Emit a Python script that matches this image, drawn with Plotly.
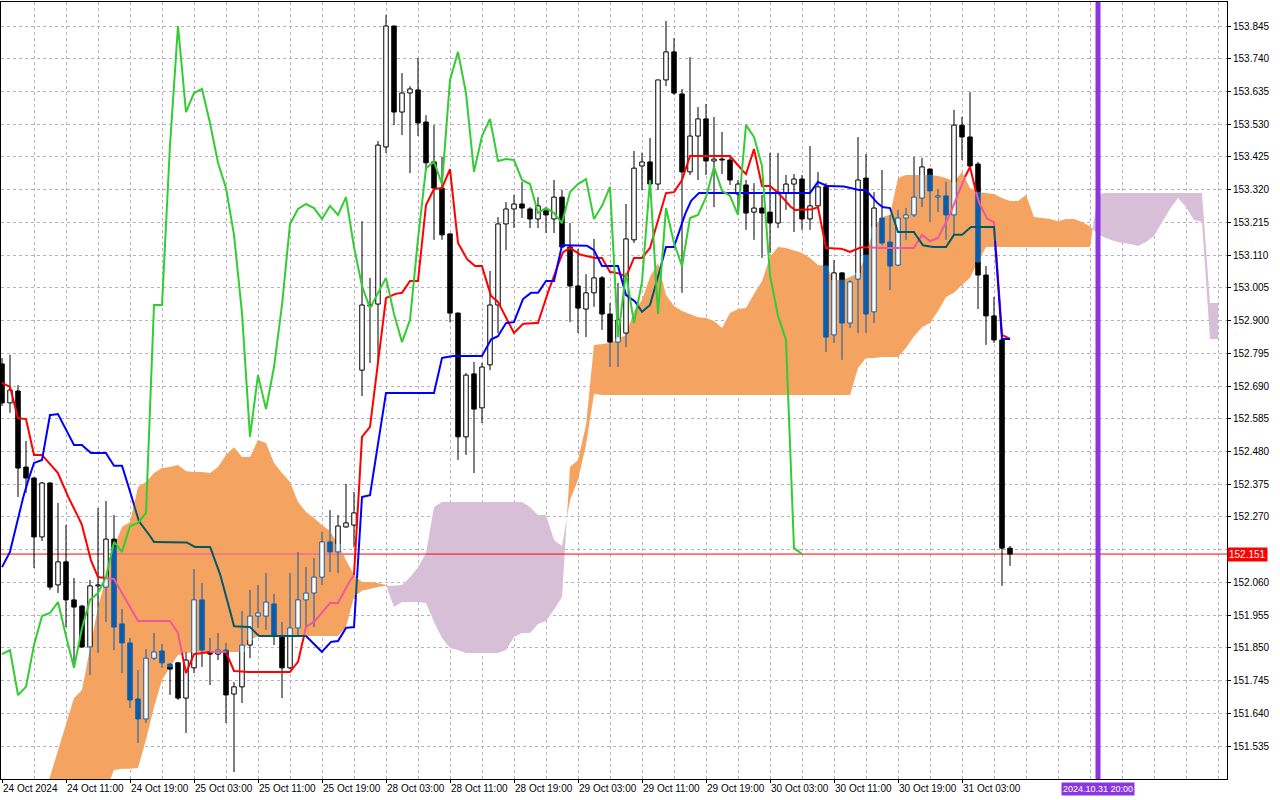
import numpy as np
import plotly.graph_objects as go

# ---- data (USDJPY H1, Ichimoku) ----
x_tick_bars = [0, 8, 16, 24, 32, 40, 48, 56, 64, 72, 80, 88, 96, 104, 112, 120]
x_tick_text = ["24 Oct 2024", "24 Oct 11:00", "24 Oct 19:00", "25 Oct 03:00",
               "25 Oct 11:00", "25 Oct 19:00", "28 Oct 03:00", "28 Oct 11:00",
               "28 Oct 19:00", "29 Oct 03:00", "29 Oct 11:00", "29 Oct 19:00",
               "30 Oct 03:00", "30 Oct 11:00", "30 Oct 19:00", "31 Oct 03:00"]
y_ticks = [151.535, 151.640, 151.745, 151.850, 151.955, 152.060, 152.165, 152.270,
           152.375, 152.480, 152.585, 152.690, 152.795, 152.900, 153.005, 153.110,
           153.215, 153.320, 153.425, 153.530, 153.635, 153.740, 153.845]

open_px = [
    152.761, 152.636, 152.674, 152.430, 152.395, 152.206, 152.379, 152.052, 152.126, 152.004,
    151.984, 151.853, 152.049, 152.045, 152.199, 151.927, 151.866, 151.686, 151.622, 151.817,
    151.840, 151.798, 151.802, 151.689, 151.786, 152.004, 151.837, 151.830, 151.843, 151.702,
    151.725, 151.859, 151.952, 151.952, 151.991, 151.888, 151.786, 151.914, 152.004, 152.026,
    152.077, 152.190, 152.158, 152.238, 152.244, 152.741, 152.947, 152.953, 153.457, 153.845,
    153.569, 153.630, 153.640, 153.537, 153.409, 153.325, 153.178, 152.924, 152.527, 152.729,
    152.620, 152.758, 152.950, 153.210, 153.258, 153.274, 153.258, 153.226, 153.252, 153.226,
    153.296, 153.136, 153.011, 152.937, 152.989, 153.037, 152.921, 152.831, 152.860, 153.159,
    153.396, 153.409, 153.338, 153.672, 153.762, 153.627, 153.377, 153.492, 153.547, 153.412,
    153.418, 153.415, 153.306, 153.335, 153.248, 153.261, 153.248, 153.213, 153.309, 153.338,
    153.354, 153.226, 153.268, 153.329, 152.854, 153.053, 152.892, 153.033, 153.357, 152.928,
    153.229, 153.152, 153.078, 153.229, 153.239, 153.293, 153.386, 153.296, 153.300, 153.239,
    153.527, 153.489, 153.402, 153.046, 152.915, 152.838, 152.170]
high_px = [
    152.780, 152.790, 152.693, 152.514, 152.397, 152.382, 152.381, 152.315, 152.244, 152.074,
    151.988, 152.068, 152.299, 152.321, 152.276, 151.975, 151.882, 151.779, 151.846, 151.898,
    151.862, 151.802, 151.805, 151.837, 152.103, 152.058, 151.882, 151.898, 151.866, 151.740,
    151.968, 152.036, 152.052, 152.090, 152.023, 151.933, 152.090, 152.158, 152.109, 152.138,
    152.222, 152.292, 152.276, 152.376, 152.350, 153.219, 153.037, 153.476, 153.880, 153.846,
    153.694, 153.652, 153.742, 153.559, 153.527, 153.425, 153.180, 152.926, 152.732, 152.767,
    152.764, 153.059, 153.232, 153.280, 153.303, 153.345, 153.264, 153.296, 153.264, 153.351,
    153.319, 153.213, 153.130, 153.049, 153.162, 153.043, 152.956, 153.021, 153.274, 153.444,
    153.438, 153.486, 153.672, 153.861, 153.806, 153.643, 153.745, 153.585, 153.595, 153.553,
    153.505, 153.425, 153.351, 153.351, 153.341, 153.303, 153.438, 153.438, 153.367, 153.370,
    153.367, 153.460, 153.377, 153.341, 153.094, 153.055, 153.030, 153.489, 153.434, 153.312,
    153.383, 153.239, 153.255, 153.261, 153.425, 153.422, 153.388, 153.322, 153.345, 153.576,
    153.553, 153.633, 153.409, 153.075, 152.976, 152.839, 152.177]
low_px = [
    152.626, 152.604, 152.334, 152.347, 152.106, 152.193, 152.036, 152.026, 151.917, 151.789,
    151.850, 151.763, 151.834, 151.933, 151.843, 151.769, 151.657, 151.545, 151.609, 151.811,
    151.786, 151.699, 151.683, 151.577, 151.769, 151.789, 151.731, 151.811, 151.609, 151.452,
    151.673, 151.817, 151.914, 151.908, 151.859, 151.689, 151.782, 151.885, 151.917, 151.917,
    152.052, 152.093, 152.090, 152.235, 152.174, 152.658, 152.764, 152.764, 153.438, 153.527,
    153.495, 153.373, 153.492, 153.383, 153.159, 153.159, 152.895, 152.453, 152.469, 152.411,
    152.571, 152.741, 152.860, 153.126, 153.197, 153.229, 153.197, 153.197, 153.181, 153.181,
    153.133, 152.895, 152.860, 152.847, 152.944, 152.870, 152.751, 152.751, 152.815, 153.149,
    153.319, 153.319, 153.319, 153.652, 153.624, 152.989, 153.367, 153.351, 153.367, 153.264,
    153.370, 153.335, 153.239, 153.191, 153.159, 153.101, 153.117, 153.197, 153.255, 153.184,
    153.191, 153.191, 153.255, 152.799, 152.828, 152.774, 152.876, 152.860, 152.860, 152.892,
    153.142, 152.998, 153.076, 153.159, 153.232, 153.264, 153.216, 153.248, 153.159, 153.175,
    153.415, 153.383, 152.937, 152.822, 152.828, 152.049, 152.113]
close_px = [
    152.636, 152.677, 152.427, 152.395, 152.206, 152.379, 152.045, 152.126, 152.004, 151.981,
    151.853, 152.049, 152.052, 152.199, 151.917, 151.866, 151.683, 151.622, 151.817, 151.837,
    151.802, 151.782, 151.689, 151.811, 152.004, 151.843, 151.830, 151.843, 151.699, 151.725,
    151.859, 151.952, 151.962, 151.997, 151.888, 151.786, 151.914, 152.004, 152.026, 152.077,
    152.190, 152.158, 152.241, 152.251, 152.283, 152.950, 152.950, 153.463, 153.845, 153.569,
    153.630, 153.643, 153.534, 153.406, 153.325, 153.175, 152.924, 152.527, 152.725, 152.616,
    152.751, 152.950, 153.210, 153.258, 153.274, 153.261, 153.226, 153.268, 153.239, 153.296,
    153.136, 153.011, 152.940, 152.989, 153.037, 152.921, 152.831, 152.902, 153.162, 153.389,
    153.409, 153.338, 153.672, 153.762, 153.630, 153.377, 153.492, 153.547, 153.412, 153.418,
    153.415, 153.351, 153.338, 153.245, 153.261, 153.245, 153.213, 153.312, 153.338, 153.354,
    153.226, 153.268, 153.329, 152.847, 153.053, 152.892, 153.024, 153.351, 152.921, 153.261,
    153.149, 153.075, 153.229, 153.239, 153.296, 153.393, 153.316, 153.300, 153.239, 153.527,
    153.489, 153.396, 153.046, 152.915, 152.838, 152.170, 152.151]

tenkan = [
    152.700, 152.687, 152.587, 152.584, 152.469, 152.469, 152.440, 152.411, 152.347, 152.299,
    152.244, 152.138, 152.077, 152.074, 152.071, 152.026, 151.981, 151.936, 151.936, 151.936,
    151.936, 151.936, 151.898, 151.769, 151.830, 151.834, 151.837, 151.837, 151.837, 151.776,
    151.773, 151.773, 151.773, 151.773, 151.773, 151.773, 151.773, 151.805, 151.917, 151.933,
    151.965, 151.994, 151.994, 152.045, 152.084, 152.527, 152.559, 152.764, 152.972, 152.985,
    152.989, 153.027, 153.027, 153.271, 153.322, 153.325, 153.386, 153.149, 153.101, 153.075,
    153.075, 152.982, 152.960, 152.908, 152.860, 152.889, 152.892, 152.892, 152.976, 153.040,
    153.117, 153.133, 153.114, 153.107, 153.101, 153.101, 153.056, 153.053, 153.040, 153.101,
    153.101, 153.133, 153.223, 153.309, 153.312, 153.351, 153.428, 153.428, 153.428, 153.428,
    153.428, 153.428, 153.396, 153.370, 153.450, 153.332, 153.332, 153.312, 153.280, 153.255,
    153.255, 153.255, 153.264, 153.133, 153.133, 153.130, 153.120, 153.133, 153.136, 153.133,
    153.133, 153.133, 153.133, 153.133, 153.133, 153.175, 153.155, 153.165, 153.213, 153.271,
    153.341, 153.393, 153.287, 153.229, 153.216, 152.854, 152.841]
kijun = [
    152.109, 152.158, 152.270, 152.366, 152.443, 152.453, 152.597, 152.600, 152.549, 152.501,
    152.501, 152.475, 152.475, 152.475, 152.434, 152.434, 152.357, 152.260, 152.228, 152.190,
    152.190, 152.190, 152.190, 152.190, 152.174, 152.174, 152.174, 152.109, 152.020, 151.920,
    151.917, 151.917, 151.888, 151.888, 151.888, 151.888, 151.888, 151.888, 151.888, 151.862,
    151.837, 151.869, 151.872, 151.914, 151.917, 152.334, 152.340, 152.507, 152.668, 152.668,
    152.668, 152.668, 152.668, 152.668, 152.668, 152.780, 152.786, 152.786, 152.786, 152.786,
    152.786, 152.838, 152.850, 152.892, 152.895, 152.966, 152.989, 152.989, 153.027, 153.027,
    153.142, 153.142, 153.142, 153.142, 153.126, 153.075, 153.075, 153.075, 152.982, 152.966,
    152.928, 152.950, 153.040, 153.136, 153.136, 153.216, 153.280, 153.309, 153.309, 153.309,
    153.309, 153.309, 153.309, 153.309, 153.309, 153.309, 153.309, 153.309, 153.309, 153.309,
    153.309, 153.309, 153.345, 153.332, 153.332, 153.332, 153.325, 153.319, 153.319, 153.287,
    153.264, 153.261, 153.184, 153.184, 153.184, 153.142, 153.136, 153.136, 153.136, 153.175,
    153.175, 153.200, 153.200, 153.200, 153.200, 152.841, 152.841]
span_a = [
    150.932, 151.016, 151.099, 151.182, 151.266, 151.352, 151.433, 151.516, 151.603, 151.689,
    151.715, 151.853, 151.981, 152.077, 152.174, 152.238, 152.254, 152.366, 152.382, 152.411,
    152.427, 152.430, 152.437, 152.417, 152.414, 152.414, 152.411, 152.430, 152.469, 152.494,
    152.462, 152.462, 152.517, 152.507, 152.443, 152.411, 152.382, 152.318, 152.286, 152.267,
    152.244, 152.225, 152.183, 152.132, 152.084, 152.061, 152.061, 152.058, 152.052, 151.981,
    151.997, 151.997, 151.997, 151.994, 151.933, 151.882, 151.850, 151.843, 151.834, 151.834,
    151.834, 151.834, 151.834, 151.843, 151.885, 151.898, 151.898, 151.927, 151.936, 151.972,
    152.013, 152.430, 152.453, 152.565, 152.822, 152.825, 152.828, 152.841, 152.854, 152.931,
    152.966, 153.040, 153.085, 152.982, 152.947, 152.931, 152.921, 152.911, 152.908, 152.899,
    152.876, 152.924, 152.937, 152.940, 152.985, 153.027, 153.104, 153.136, 153.133, 153.126,
    153.117, 153.101, 153.078, 153.075, 153.030, 153.030, 153.040, 153.053, 153.110, 153.200,
    153.232, 153.239, 153.357, 153.367, 153.367, 153.367, 153.367, 153.364, 153.357, 153.345,
    153.377, 153.325, 153.312, 153.309, 153.306, 153.293, 153.284, 153.284, 153.303, 153.232,
    153.229, 153.226, 153.219, 153.226, 153.226, 153.216, 153.203, 153.175, 153.165, 153.155,
    153.149, 153.146, 153.139, 153.152, 153.171, 153.213, 153.258, 153.293, 153.264, 153.223,
    153.216, 152.841, 152.841]
span_b = [
    150.800, 150.800, 150.800, 150.800, 150.800, 150.800, 150.800, 150.800, 150.800, 150.800,
    150.800, 150.800, 150.800, 151.394, 151.458, 151.462, 151.462, 151.465, 151.555, 151.660,
    151.747, 151.789, 151.827, 151.834, 151.837, 151.837, 151.837, 151.837, 151.837, 151.837,
    151.837, 151.875, 151.888, 151.888, 151.888, 151.888, 151.888, 151.888, 151.888, 151.888,
    151.888, 151.888, 151.888, 151.917, 152.013, 152.033, 152.039, 152.045, 152.049, 152.049,
    152.052, 152.077, 152.109, 152.154, 152.302, 152.318, 152.318, 152.318, 152.318, 152.318,
    152.318, 152.318, 152.318, 152.318, 152.318, 152.318, 152.302, 152.276, 152.276, 152.196,
    152.177, 152.324, 152.389, 152.501, 152.665, 152.661, 152.661, 152.661, 152.661, 152.661,
    152.661, 152.661, 152.661, 152.661, 152.661, 152.661, 152.661, 152.661, 152.661, 152.661,
    152.661, 152.661, 152.661, 152.661, 152.661, 152.661, 152.661, 152.661, 152.661, 152.661,
    152.661, 152.661, 152.661, 152.661, 152.661, 152.661, 152.661, 152.748, 152.780, 152.780,
    152.783, 152.783, 152.783, 152.812, 152.850, 152.879, 152.892, 152.931, 152.976, 152.989,
    153.014, 153.037, 153.088, 153.136, 153.136, 153.136, 153.136, 153.136, 153.136, 153.136,
    153.136, 153.136, 153.136, 153.136, 153.136, 153.136, 153.136, 153.306, 153.309, 153.309,
    153.309, 153.309, 153.309, 153.309, 153.309, 153.309, 153.309, 153.309, 153.309, 153.309,
    153.309, 152.956, 152.956]

chikou_shift = 26
last_price = close_px[-1]
vline_bar = 137
vline_label = "2024.10.31 20:00"

# colours
ORANGE = "#F4A460"
LAVENDER = "#D8BFD8"
RED = "#FF0000"
PINK = "#F0589E"
BLUE = "#0000FF"
TEAL = "#00596A"
GREEN = "#32CD32"
CANDLE_IN = "#0B5CAD"
GRID = "#B8B0BE"
PURPLE = "#8B35E0"

X_MIN, X_MAX = -0.125, 153.125
Y_MIN, Y_MAX = 151.4294, 153.922
W = 0.28  # half body width in bars


def orange_at(x):
    n = len(span_a)
    if x < 0 or x > n - 1:
        return None
    k = min(int(np.floor(x)), n - 2)
    t = x - k
    a = span_a[k] + t * (span_a[k + 1] - span_a[k])
    b = span_b[k] + t * (span_b[k + 1] - span_b[k])
    return (b, a) if a >= b else None


def inside(x, y):
    r = orange_at(x)
    return r is not None and r[0] <= y <= r[1]


def cloud_polys(a, b):
    pts = []
    for k in range(len(a)):
        pts.append((k, a[k], b[k]))
        if k + 1 < len(a):
            d0, d1 = a[k] - b[k], a[k + 1] - b[k + 1]
            if d0 * d1 < 0:
                t = d0 / (d0 - d1)
                yc = a[k] + t * (a[k + 1] - a[k])
                pts.append((k + t, yc, yc))

    def cls(j):
        return (pts[j][1] + pts[j + 1][1]) >= (pts[j][2] + pts[j + 1][2])

    out = {True: ([], []), False: ([], [])}
    j = 0
    while j < len(pts) - 1:
        c = cls(j)
        k = j
        while k < len(pts) - 1 and cls(k) == c:
            k += 1
        run = pts[j:k + 1]
        xs = [r[0] for r in run] + [r[0] for r in reversed(run)]
        ys = [r[1] for r in run] + [r[2] for r in reversed(run)]
        out[c][0].extend(xs + [None])
        out[c][1].extend(ys + [None])
        j = k
    return out


def split_line(xs, ys, steps=8):
    res = {False: ([], []), True: ([], [])}
    cur = None
    for k in range(len(xs) - 1):
        for s in range(steps):
            t0, t1 = s / steps, (s + 1) / steps
            x0 = xs[k] + t0 * (xs[k + 1] - xs[k])
            x1 = xs[k] + t1 * (xs[k + 1] - xs[k])
            y0 = ys[k] + t0 * (ys[k + 1] - ys[k])
            y1 = ys[k] + t1 * (ys[k + 1] - ys[k])
            f = inside((x0 + x1) / 2, (y0 + y1) / 2)
            if f != cur:
                if cur is not None:
                    res[cur][0].append(None)
                    res[cur][1].append(None)
                res[f][0].append(x0)
                res[f][1].append(y0)
                cur = f
            res[f][0].append(x1)
            res[f][1].append(y1)
    return res


def parts(a, b, x):
    r = orange_at(x)
    if b - a < 1e-9:
        return [(a, b, r is not None and r[0] <= a <= r[1])]
    if r is None:
        return [(a, b, False)]
    lo, hi = r
    out = []
    if a < lo:
        out.append((a, min(b, lo), False))
    if b > lo and a < hi:
        out.append((max(a, lo), min(b, hi), True))
    if b > hi:
        out.append((max(a, hi), b, False))
    return out


fig = go.Figure()

# cloud
polys = cloud_polys(span_a, span_b)
fig.add_trace(go.Scatter(x=polys[True][0], y=polys[True][1], mode="lines", fill="toself",
                         fillcolor=ORANGE, line=dict(width=0, color=ORANGE)))
fig.add_trace(go.Scatter(x=polys[False][0], y=polys[False][1], mode="lines", fill="toself",
                         fillcolor=LAVENDER, line=dict(width=0, color=LAVENDER)))

# current price line
pl = split_line([X_MIN, X_MAX], [last_price, last_price], steps=int((X_MAX - X_MIN) * 8))
fig.add_trace(go.Scatter(x=pl[False][0], y=pl[False][1], mode="lines", line=dict(color=RED, width=1)))
fig.add_trace(go.Scatter(x=pl[True][0], y=pl[True][1], mode="lines", line=dict(color=PINK, width=1)))

# candles
white_fill = ([], [])
line_seg = {False: ([], []), True: ([], [])}
body_fill = {False: ([], []), True: ([], [])}


def add_seg(store, x0, y0, x1, y1):
    store[0].extend([x0, x1, None])
    store[1].extend([y0, y1, None])


def add_rect(store, i, lo, hi):
    store[0].extend([i - W, i + W, i + W, i - W, i - W, None])
    store[1].extend([lo, lo, hi, hi, lo, None])


for i in range(len(close_px)):
    o, h, l, c = open_px[i], high_px[i], low_px[i], close_px[i]
    bl, bh = min(o, c), max(o, c)
    for a, b in ((bh, h), (l, bl)):
        if b > a:
            for p0, p1, f in parts(a, b, i):
                add_seg(line_seg[f], i, p0, i, p1)
    if c >= o:
        add_rect(white_fill, i, bl, bh)
        for p0, p1, f in parts(bl, bh, i):
            add_seg(line_seg[f], i - W, p0, i - W, p1)
            add_seg(line_seg[f], i + W, p0, i + W, p1)
        add_seg(line_seg[inside(i, bl)], i - W, bl, i + W, bl)
        add_seg(line_seg[inside(i, bh)], i - W, bh, i + W, bh)
    else:
        for p0, p1, f in parts(bl, bh, i):
            add_rect(body_fill[f], i, p0, p1)

fig.add_trace(go.Scatter(x=white_fill[0], y=white_fill[1], mode="lines", fill="toself",
                         fillcolor="white", line=dict(width=0, color="white")))
fig.add_trace(go.Scatter(x=line_seg[False][0], y=line_seg[False][1], mode="lines",
                         line=dict(color="black", width=1)))
fig.add_trace(go.Scatter(x=line_seg[True][0], y=line_seg[True][1], mode="lines",
                         line=dict(color=CANDLE_IN, width=1)))
fig.add_trace(go.Scatter(x=body_fill[False][0], y=body_fill[False][1], mode="lines", fill="toself",
                         fillcolor="black", line=dict(color="black", width=1)))
fig.add_trace(go.Scatter(x=body_fill[True][0], y=body_fill[True][1], mode="lines", fill="toself",
                         fillcolor=CANDLE_IN, line=dict(color=CANDLE_IN, width=1)))

# Ichimoku lines (Kijun above Tenkan, Chikou on top)
bars = list(range(len(close_px)))
tk = split_line(bars, tenkan)
fig.add_trace(go.Scatter(x=tk[False][0], y=tk[False][1], mode="lines", line=dict(color=RED, width=2)))
fig.add_trace(go.Scatter(x=tk[True][0], y=tk[True][1], mode="lines", line=dict(color=PINK, width=2)))
kj = split_line(bars, kijun)
fig.add_trace(go.Scatter(x=kj[False][0], y=kj[False][1], mode="lines", line=dict(color=BLUE, width=2)))
fig.add_trace(go.Scatter(x=kj[True][0], y=kj[True][1], mode="lines", line=dict(color=TEAL, width=2)))
chikou = close_px[chikou_shift:]
fig.add_trace(go.Scatter(x=bars[:len(chikou)], y=chikou, mode="lines", line=dict(color=GREEN, width=2)))

fig.update_traces(hoverinfo="skip", showlegend=False)

# time marker
fig.add_shape(type="line", xref="x", yref="paper", x0=vline_bar, x1=vline_bar, y0=0, y1=1,
              line=dict(color=PURPLE, width=5))
fig.add_annotation(x=vline_bar, xref="x", y=0, yref="paper", yanchor="top", yshift=-3,
                   text=vline_label, showarrow=False, bgcolor=PURPLE, borderpad=1,
                   font=dict(color="white", size=9))
fig.add_annotation(x=1, xref="paper", xanchor="left", y=last_price, yref="y",
                   text=f"{last_price:.3f}", showarrow=False, bgcolor=RED, borderpad=1,
                   font=dict(color="white", size=10))

# the current-price box hides the tick label right under it, as on the chart
y_ticktext = ["" if abs(v - last_price) < 0.03 else f"{v:.3f}" for v in y_ticks]

fig.update_layout(
    width=1280, height=800,
    margin=dict(l=1, r=53, t=2, b=21, autoexpand=False),
    paper_bgcolor="white", plot_bgcolor="white",
    showlegend=False, hovermode=False,
    font=dict(family="Liberation Sans, Arial, sans-serif", size=10, color="black"),
)
fig.update_xaxes(
    range=[X_MIN, X_MAX], tickmode="array", tickvals=x_tick_bars, ticktext=x_tick_text,
    tickangle=0, automargin=False,
    ticks="outside", ticklen=3, tickcolor="black", ticklabelposition="outside right",
    showgrid=True, gridcolor=GRID, griddash="3px,3px", gridwidth=1,
    minor=dict(tickmode="array", tickvals=list(range(0, 153, 4)), showgrid=True,
               gridcolor=GRID, griddash="3px,3px", gridwidth=1, ticks=""),
    showline=True, linecolor="black", linewidth=1, mirror=True, zeroline=False, fixedrange=True,
)
fig.update_yaxes(
    range=[Y_MIN, Y_MAX], side="right", tickmode="array", tickvals=y_ticks,
    ticktext=y_ticktext, automargin=False,
    ticks="outside", ticklen=3, tickcolor="black",
    showgrid=True, gridcolor=GRID, griddash="3px,3px", gridwidth=1,
    showline=True, linecolor="black", linewidth=1, mirror=True, zeroline=False, fixedrange=True,
)

fig.write_html("out.html", config={"displayModeBar": False},
               post_script="document.body.style.margin='0';document.body.style.overflow='hidden';")
